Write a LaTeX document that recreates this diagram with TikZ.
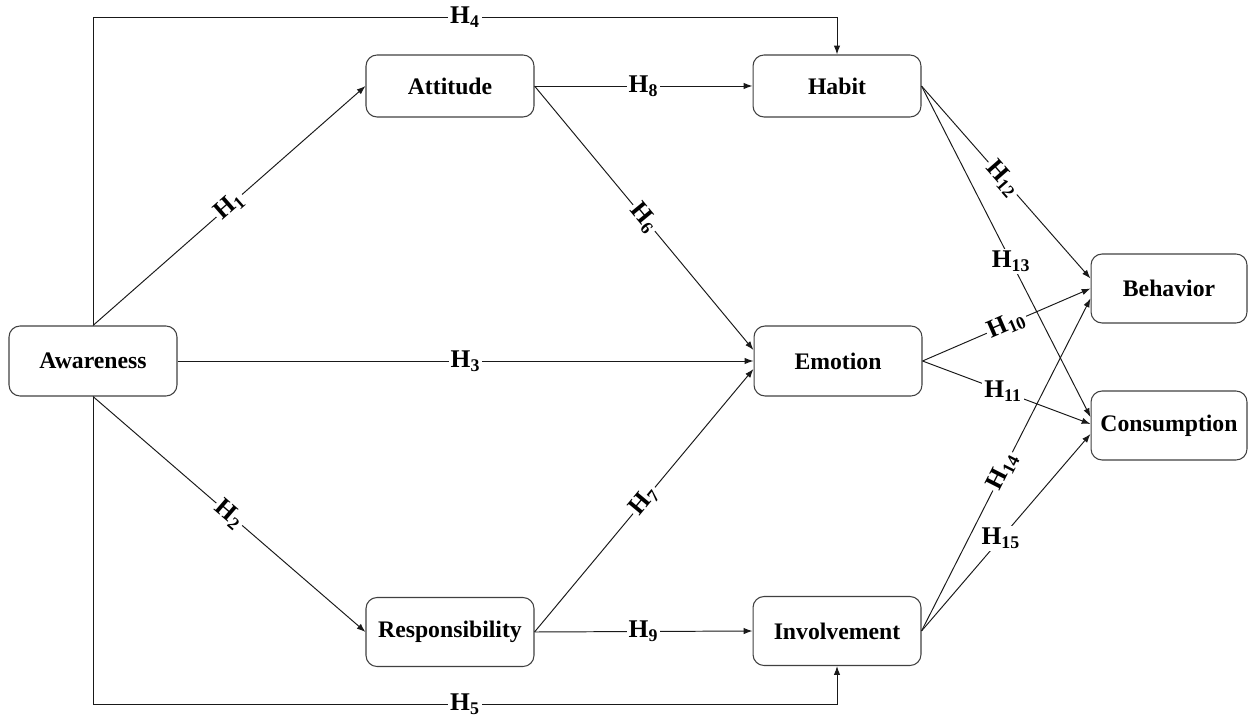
\documentclass[tikz,border=0pt]{standalone}
\usepackage{fontspec}
\setmainfont{Liberation Serif}
\usetikzlibrary{arrows.meta}
\newcommand{\hyp}[1]{H\textsubscript{#1}}
\begin{document}
\begin{tikzpicture}[x=0.02cm,y=-0.02cm,
  construct/.style={draw=black!75, line width=0.6pt, rounded corners=0.22cm,
    minimum width=3.36cm, minimum height=1.38cm, inner sep=0pt,
    font=\bfseries\fontsize{13.5}{16}\selectfont},
  outcome/.style={construct, minimum width=3.12cm},
  link/.style={draw=black!90, line width=0.55pt,
    -{Latex[length=5pt,width=3.6pt]}},
  hlabel/.style={fill=white, inner sep=1.2pt,
    font=\bfseries\fontsize{14.5}{16}\selectfont}]
\useasboundingbox (0,0) rectangle (1250,719);

% constructs
\node[construct, minimum height=1.4cm] (aw) at (93,361) {Awareness};
\node[construct, minimum height=1.24cm] (att) at (450,86) {Attitude};
\node[construct, minimum height=1.24cm] (hab) at (837,86) {Habit};
\node[construct, minimum height=1.4cm] (emo) at (838,361) {Emotion};
\node[construct] (res) at (450,632) {Responsibility};
\node[construct] (inv) at (837,631) {Involvement};
\node[outcome] (beh) at (1169,288.5) {Behavior};
\node[outcome] (con) at (1169,425.5) {Consumption};

% outer routes
\coordinate (tl) at (93,17);
\coordinate (tr) at (hab.north |- tl);
\coordinate (bl) at (93,704);
\coordinate (br) at (inv.south |- bl);
\draw[link] (aw.north) -- (tl) -- node[hlabel]{\hyp{4}} (tr) -- (hab.north);
\draw[link] (aw.south) -- (bl) -- node[hlabel]{\hyp{5}} (br) -- (inv.south);

% paths from awareness
\draw[link] (aw.north) -- node[hlabel, sloped]{\hyp{1}} (att.west);
\draw[link] (aw.south) -- node[hlabel, sloped]{\hyp{2}} (res.west);
\draw[link] (aw.east) -- node[hlabel]{\hyp{3}} (emo.west);

% middle layer
\draw[link] (att.east) -- node[hlabel, sloped]{\hyp{6}} ([yshift=0.22cm]emo.west);
\draw[link] (res.east) -- node[hlabel, sloped]{\hyp{7}} ([yshift=-0.16cm]emo.west);
\draw[link] (att.east) -- node[hlabel]{\hyp{8}} (hab.west);
\draw[link] (res.east) -- node[hlabel]{\hyp{9}} (inv.west);

% outcomes
\draw[link] (emo.east) -- node[hlabel, sloped]{\hyp{10}} (beh.west);
\draw[link] (emo.east) -- node[hlabel, pos=0.48]{\hyp{11}} ([yshift=0.03cm]con.west);
\draw[link] (hab.east) -- node[hlabel, sloped, pos=0.48]{\hyp{12}} ([yshift=0.2cm]beh.west);
\draw[link] (hab.east) -- node[hlabel, pos=0.53]{\hyp{13}} ([yshift=0.17cm]con.west);
\draw[link] (inv.east) -- node[hlabel, sloped, pos=0.48]{\hyp{14}} ([yshift=-0.2cm]beh.west);
\draw[link] (inv.east) -- node[hlabel, pos=0.47]{\hyp{15}} ([yshift=-0.17cm]con.west);
\end{tikzpicture}
\end{document}
